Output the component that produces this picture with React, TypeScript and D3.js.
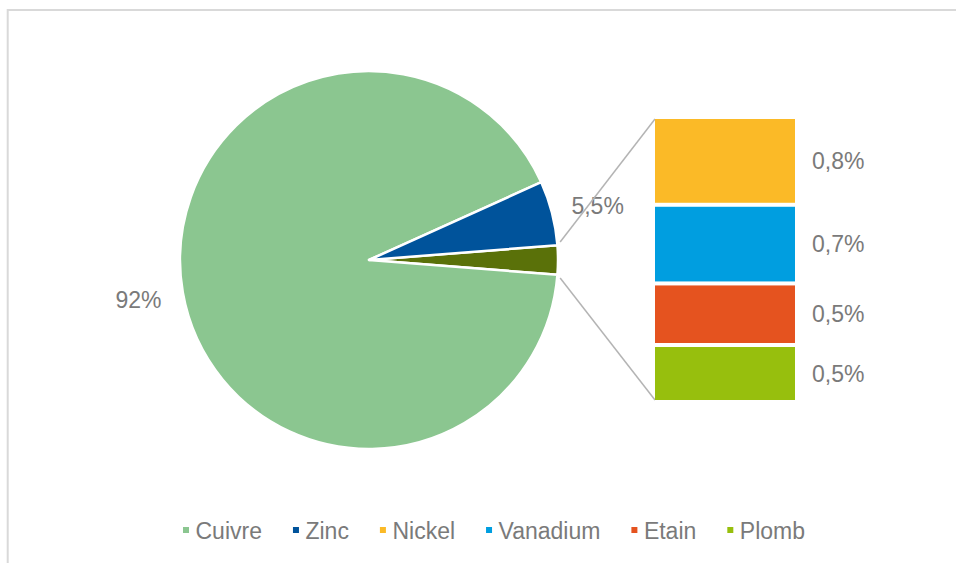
import { arc, pie, scaleLinear } from 'd3';

const width = 956;
const height = 563;

// main pie: the last slice is the "other" group detailed in the bar
const pieLabels = ['Cuivre', 'Zinc', 'Autres'];
const pieValues = [92, 5.5, 2.5];
const pieColors = ['#8bc690', '#00539b', '#5a7109'];

// stacked bar breakdown of the "other" slice
const barLabels = ['Nickel', 'Vanadium', 'Etain', 'Plomb'];
const barValues = [0.77, 0.69, 0.54, 0.5];
const barColors = ['#fbba27', '#009ee0', '#e5531f', '#97bf0d'];

const legendLabels = ['Cuivre', 'Zinc', 'Nickel', 'Vanadium', 'Etain', 'Plomb'];
const legendColors = ['#8bc690', '#00539b', '#fbba27', '#009ee0', '#e5531f', '#97bf0d'];

const textColor = '#7a7a7a';
const font = 'Liberation Sans, Arial, sans-serif';
const fontSize = 23;

const cx = 369;
const cy = 260;
const radius = 189;
const labelRadius = 234;

const barX = 655;
const barW = 140;
const barTop = 119;
const barBottom = 400;

const fmt = (v: number) => v.toFixed(1).replace('.', ',') + '%';
const fmtPie = (v: number) => String(v).replace('.', ',') + '%';

const measure = (s: string) => {
	const ctx = document.createElement('canvas').getContext('2d');
	if (!ctx) return s.length * 12;
	ctx.font = `${fontSize}px ${font}`;
	return ctx.measureText(s).width;
};

const App = () => {
	const otherShare = pieValues[2] / pieValues.reduce((a, b) => a + b, 0);
	const half = otherShare * Math.PI;
	const start = Math.PI / 2 - half;

	// order clockwise: other, cuivre, zinc
	const order = [2, 0, 1];
	const arcs = pie<number>()
		.sort(null)
		.value(i => pieValues[i])
		.startAngle(start)
		.endAngle(start + 2 * Math.PI)(order);

	const arcGen = arc<any>().innerRadius(0).outerRadius(radius);
	const labelArc = arc<any>().innerRadius(labelRadius).outerRadius(labelRadius);

	const total = barValues.reduce((a, b) => a + b, 0);
	const yScale = scaleLinear().domain([0, total]).range([barTop - 2, barBottom + 2]);
	let acc = 0;
	const bars = barValues.map((v, i) => {
		const y0 = yScale(acc);
		acc += v;
		const y1 = yScale(acc);
		return { i, v, y0, y1 };
	});

	// connector lines start just outside the "other" slice corners
	const r2 = radius + 3;
	const a1 = start - 0.015;
	const a2 = start + 2 * half + 0.015;
	const p1 = [cx + r2 * Math.sin(a1), cy - r2 * Math.cos(a1)];
	const p2 = [cx + r2 * Math.sin(a2), cy - r2 * Math.cos(a2)];

	// legend layout
	const sq = 6;
	const textOff = 12.5;
	const gap = 31;
	let lx = 183;
	const legend = legendLabels.map((l, i) => {
		const x = lx;
		lx += textOff + measure(l) + gap;
		return { l, x, color: legendColors[i] };
	});

	return (
		<svg
			width={width}
			height={height}
			style={{ position: 'absolute', left: 0, top: 0, display: 'block' }}
			fontFamily={font}
		>
			<rect x={0} y={0} width={width} height={height} fill="#fff" />
			<rect x={7.7} y={10} width={1200} height={1200} fill="none" stroke="#d9d9d9" strokeWidth={2} />

			<g transform={`translate(${cx},${cy})`}>
				{arcs.map(a => (
					<path
						key={a.data}
						d={arcGen(a) || ''}
						fill={pieColors[a.data]}
						stroke="#fff"
						strokeWidth={2.5}
						strokeLinejoin="round"
					/>
				))}
				{arcs
					.filter(a => a.data !== 2)
					.map(a => {
						const [x, y] = labelArc.centroid(a);
						return (
							<text
								key={a.data}
								x={x + (a.data === 1 ? 2 : 0)}
								y={y + (a.data === 1 ? 4 : 0)}
								textAnchor="middle"
								dy="0.35em"
								fontSize={fontSize}
								fill={textColor}
							>
								{fmtPie(pieValues[a.data])}
							</text>
						);
					})}
			</g>

			<line x1={p1[0]} y1={p1[1]} x2={barX} y2={barTop} stroke="#b4b4b4" strokeWidth={1.5} />
			<line x1={p2[0]} y1={p2[1]} x2={barX} y2={barBottom} stroke="#b4b4b4" strokeWidth={1.5} />

			{bars.map(b => (
				<g key={b.i}>
					<rect
						x={barX}
						y={b.y0 + 2}
						width={barW}
						height={b.y1 - b.y0 - 4}
						fill={barColors[b.i]}
					/>
					<text
						x={812}
						y={(b.y0 + b.y1) / 2}
						dy="0.35em"
						fontSize={fontSize}
						fill={textColor}
					>
						{fmt(b.v)}
					</text>
				</g>
			))}

			{legend.map(d => (
				<g key={d.l}>
					<rect x={d.x} y={527} width={sq} height={sq} fill={d.color} />
					<text x={d.x + textOff} y={538.5} fontSize={fontSize} fill={textColor}>
						{d.l}
					</text>
				</g>
			))}
		</svg>
	);
};

export default App;
